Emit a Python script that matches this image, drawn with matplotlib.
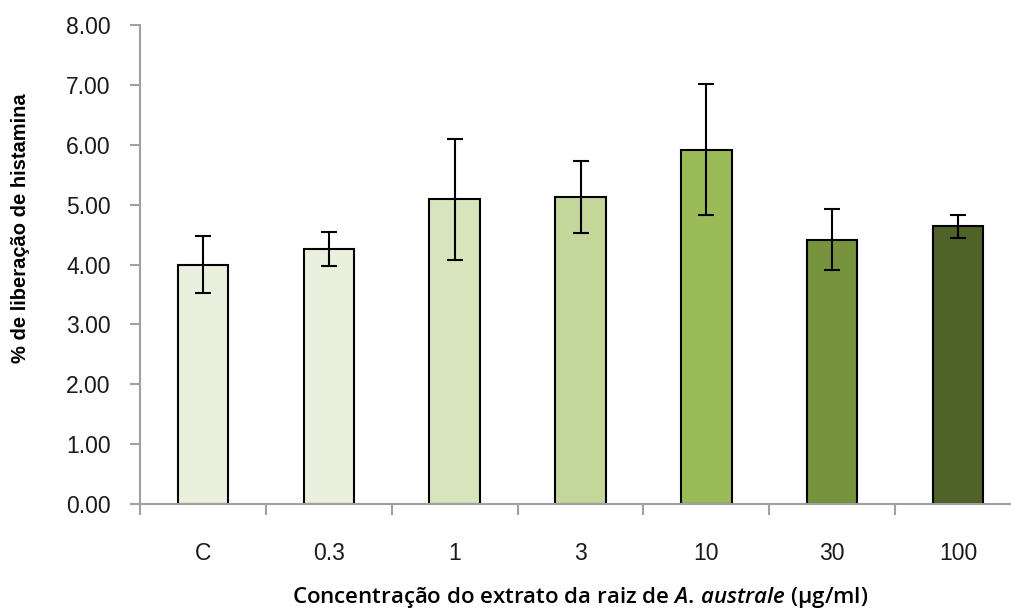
import matplotlib
matplotlib.use("Agg")
import matplotlib.pyplot as plt
from matplotlib import font_manager
import numpy as np

categories = ["C", "0.3", "1", "3", "10", "30", "100"]
values = [4.00, 4.26, 5.09, 5.13, 5.92, 4.41, 4.64]
errors = [0.48, 0.29, 1.01, 0.60, 1.10, 0.51, 0.19]
colors = ["#EBEFDE", "#EBEFDE", "#D8E4BC", "#C4D79B", "#9BBB59", "#76923C", "#4F6228"]
yticks = [0, 1, 2, 3, 4, 5, 6, 7, 8]

names = {f.name for f in font_manager.fontManager.ttflist}
narrow = "Liberation Sans Narrow" if "Liberation Sans Narrow" in names else "Liberation Sans"

plt.rcParams["mathtext.fontset"] = "custom"
plt.rcParams["mathtext.it"] = "Open Sans:italic:semibold"
plt.rcParams["mathtext.rm"] = "Open Sans:semibold"

fig = plt.figure(figsize=(10.11, 6.10), dpi=100)
ax = fig.add_axes([140/1011, 1-504/610, 881/1011, (504-25)/610])

x = np.arange(len(categories))
ax.bar(x, values, width=0.4, color=colors, edgecolor="black", linewidth=1.5, zorder=2)
ax.errorbar(x, values, yerr=errors, fmt="none", ecolor="black", elinewidth=1.5,
            capsize=6, capthick=1.5, zorder=3)

ax.set_xlim(-0.5, len(categories) - 0.5)
ax.set_ylim(0, 8)
ax.set_yticks(yticks)
ax.set_yticklabels([f"{v:.2f}" for v in yticks], fontfamily="Liberation Sans", fontsize=16.5)
ax.set_xticks(np.arange(-0.5, len(categories) + 0.5, 1.0))
ax.set_xticklabels([])
ax.set_xticks(x, minor=True)
ax.set_xticklabels(categories, minor=True, fontfamily="Liberation Sans", fontsize=16.5)
ax.tick_params(axis="x", which="minor", length=0, pad=27, labelcolor="#1a1a1a")
ax.tick_params(axis="x", which="major", length=8, width=1.5, color="#A0A0A0", direction="out")
ax.tick_params(axis="y", length=7, width=1.5, color="#A0A0A0", pad=14, labelcolor="#1a1a1a")

for s in ["top", "right"]:
    ax.spines[s].set_visible(False)
for s in ["left", "bottom"]:
    ax.spines[s].set_color("#A0A0A0")
    ax.spines[s].set_linewidth(1.5)

fig.text(21/1011, 1-228/610, "% de liberação de histamina", fontfamily=narrow, fontweight="bold",
         fontsize=14.5, rotation=90, ha="center", va="center")

fig.text(580/1011, 1-598/610,
         r"Concentração do extrato da raiz de $\mathit{A.\,australe}$ (µg/ml)",
         ha="center", va="center", fontsize=16, fontfamily="Open Sans", fontweight="semibold")

fig.savefig("out.png", dpi=100)
